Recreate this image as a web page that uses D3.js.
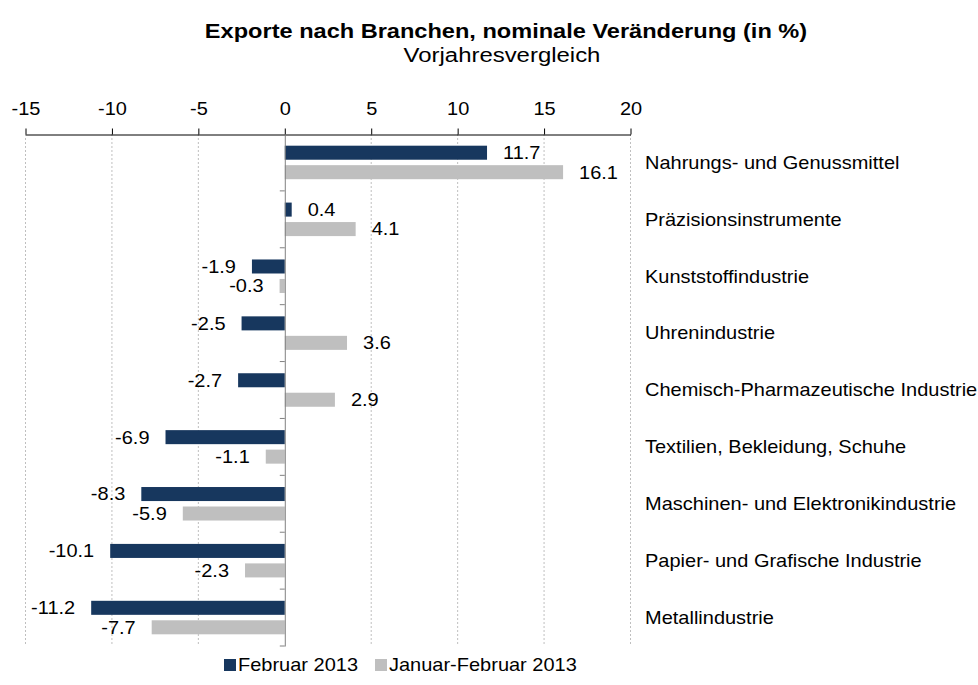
<!DOCTYPE html>
<html>
<head>
<meta charset="utf-8">
<script src="https://cdn.jsdelivr.net/npm/d3@7"></script>
<style>
  body { margin: 0; background: #fff; }
  text { font-family: "Liberation Sans", Arial, sans-serif; fill: #000; }
</style>
</head>
<body>
<script>
// Exporte nach Branchen
const categories = [
  'Nahrungs- und Genussmittel',
  'Präzisionsinstrumente',
  'Kunststoffindustrie',
  'Uhrenindustrie',
  'Chemisch-Pharmazeutische Industrie',
  'Textilien, Bekleidung, Schuhe',
  'Maschinen- und Elektronikindustrie',
  'Papier- und Grafische Industrie',
  'Metallindustrie'
]
const februar = [11.7, 0.4, -1.9, -2.5, -2.7, -6.9, -8.3, -10.1, -11.2]
const janFeb = [16.1, 4.1, -0.3, 3.6, 2.9, -1.1, -5.9, -2.3, -7.7]
const seriesNames = ['Februar 2013', 'Januar-Februar 2013']
const xTicks = [-15, -10, -5, 0, 5, 10, 15, 20]

const W = 978
const H = 685
const colors = ['#17375e', '#bfbfbf']
const fs = 17.7
const sx = 1.13 // the reference text is a little wider than plain Arial
const fmt = (d) => d3.format('.1f')(d).replace('−', '-')

const svg = d3.select('body').append('svg')
  .attr('width', W)
  .attr('height', H)

// place a text at (px,py) and stretch it horizontally
function put (sel, px, py, k) {
  return sel.attr('transform', (d, i) => {
    const a = typeof px === 'function' ? px(d, i) : px
    const b = typeof py === 'function' ? py(d, i) : py
    return `translate(${a},${b}) scale(${k || sx},1)`
  })
}

const x = d3.scaleLinear().domain([-15, 20]).range([25.5, 630.5])
const y = d3.scaleBand().domain(categories).range([134, 646])
const yInner = d3.scaleBand().domain([0, 1]).range([0, y.bandwidth()])
  .paddingInner(0.28).paddingOuter(0.6)

// title
put(svg.append('text'), 506, 38, 1.15)
  .attr('text-anchor', 'middle')
  .attr('font-size', 20.5).attr('font-weight', 'bold')
  .text('Exporte nach Branchen, nominale Veränderung (in %)')
put(svg.append('text'), 502, 62, 1.14)
  .attr('text-anchor', 'middle')
  .attr('font-size', 21)
  .text('Vorjahresvergleich')

// grid
svg.append('g').selectAll('line')
  .data(xTicks.filter((d) => d !== 0))
  .enter().append('line')
  .attr('x1', (d) => x(d)).attr('x2', (d) => x(d))
  .attr('y1', 134).attr('y2', 646)
  .attr('stroke', '#bfbfbf')
  .attr('stroke-dasharray', '2,2')

// top axis
const xAxis = svg.append('g')
  .attr('transform', 'translate(0,134.5)')
  .call(d3.axisTop(x).tickValues(xTicks).tickSize(6).tickSizeOuter(0).tickFormat((d) => String(d)))
xAxis.select('.domain').attr('stroke', '#000')
xAxis.selectAll('.tick line').attr('stroke', '#000')
xAxis.selectAll('.tick text')
  .attr('font-size', fs)
  .attr('font-family', '"Liberation Sans", Arial, sans-serif')
  .attr('y', -20)
  .attr('transform', `scale(${sx},1)`)

// bars
const series = [februar, janFeb]
series.forEach((vals, s) => {
  svg.append('g').selectAll('rect')
    .data(vals)
    .enter().append('rect')
    .attr('x', (d) => x(Math.min(0, d)))
    .attr('width', (d) => Math.abs(x(d) - x(0)))
    .attr('y', (d, i) => y(categories[i]) + yInner(s))
    .attr('height', yInner.bandwidth())
    .attr('fill', colors[s])

  const lab = svg.append('g').selectAll('text')
    .data(vals)
    .enter().append('text')
    .attr('dy', '0.36em')
    .attr('text-anchor', (d) => d >= 0 ? 'start' : 'end')
    .attr('font-size', fs)
    .text((d) => fmt(d))
  put(lab,
    (d) => d >= 0 ? x(d) + 16 : x(d) - 16,
    (d, i) => y(categories[i]) + yInner(s) + yInner.bandwidth() / 2)
})

// zero axis with category ticks
const yAxis = svg.append('g')
  .attr('transform', `translate(${x(0)},0)`)
  .call(d3.axisLeft(y).tickSize(0).tickFormat(''))
yAxis.select('.domain').attr('stroke', '#808080')
svg.append('g').selectAll('line')
  .data(categories)
  .enter().append('line')
  .attr('x1', x(0) - 5).attr('x2', x(0))
  .attr('y1', (d) => y(d) + y.bandwidth())
  .attr('y2', (d) => y(d) + y.bandwidth())
  .attr('stroke', '#808080')

// category labels
const cats = svg.append('g').selectAll('text')
  .data(categories)
  .enter().append('text')
  .attr('dy', '0.36em')
  .attr('font-size', fs)
  .text((d) => d)
put(cats, 645, (d) => y(d) + y.bandwidth() / 2)

// legend
const legend = svg.append('g')
const legX = [224, 375]
seriesNames.forEach((name, i) => {
  legend.append('rect')
    .attr('x', legX[i]).attr('y', 659)
    .attr('width', 12).attr('height', 12)
    .attr('fill', colors[i])
  put(legend.append('text'), legX[i] + 14, 665)
    .attr('dy', '0.36em')
    .attr('font-size', fs)
    .text(name)
})
</script>
</body>
</html>
